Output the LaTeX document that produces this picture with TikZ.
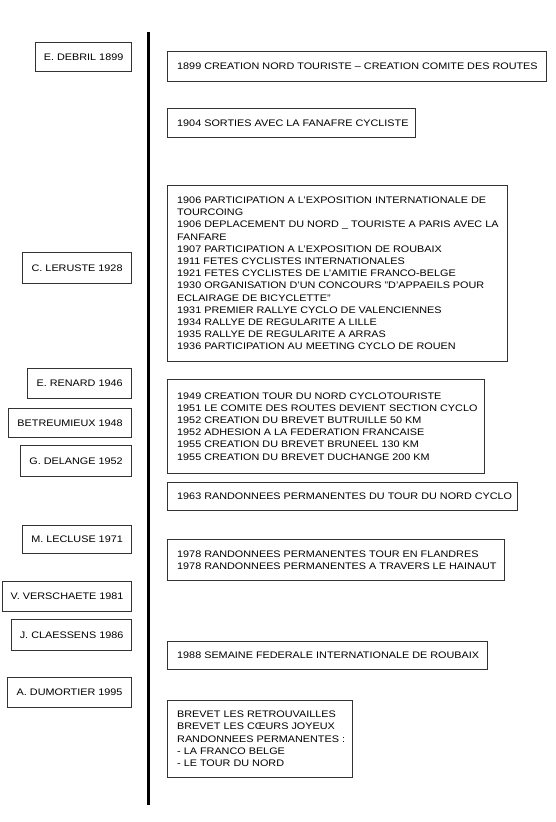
\documentclass[tikz,border=0pt]{standalone}
\usepackage{fontspec}
\setmainfont{Liberation Sans}[FakeStretch=1.14]
\begin{document}
\begin{tikzpicture}[x=1pt,y=-1pt,
  every node/.style={font=\fontsize{9.5}{12.2}\selectfont, text=black},
  lbox/.style={draw=black!80, line width=0.8pt, anchor=north east, align=center, inner sep=1pt},
  rbox/.style={draw=black!80, line width=0.8pt, anchor=north west, inner sep=0pt},
  rtext/.style={anchor=west, align=left, inner sep=0pt, xshift=10pt}]
\useasboundingbox[fill=white] (0,0) rectangle (556,822);
% timeline
\coordinate (top) at (148.5,32);
\coordinate (bot) at (148.5,805);
\draw[line width=3.6pt, black] (top) -- (bot);
% left boxes
\node[lbox, minimum width=96pt, minimum height=29pt] (debril) at (132,42) {E. DEBRIL 1899};
\node[lbox, minimum width=109pt, minimum height=31pt] (leruste) at (132,252) {C. LERUSTE 1928};
\node[lbox, minimum width=104pt, minimum height=30pt] (renard) at (132,368) {E. RENARD 1946};
\node[lbox, minimum width=123pt, minimum height=29pt] (betreu) at (132,408) {BETREUMIEUX 1948};
\node[lbox, minimum width=111pt, minimum height=31pt] (delange) at (132,445) {G. DELANGE 1952};
\node[lbox, minimum width=109pt, minimum height=28pt] (lecluse) at (132,525) {M. LECLUSE 1971};
\node[lbox, minimum width=129pt, minimum height=30pt] (versch) at (132,581) {V. VERSCHAETE 1981};
\node[lbox, minimum width=120pt, minimum height=31pt] (claess) at (132,619) {J. CLAESSENS 1986};
\node[lbox, minimum width=124pt, minimum height=30pt] (dumort) at (132,677) {A. DUMORTIER 1995};
% right boxes
\node[rbox, minimum width=379pt, minimum height=30pt] (r1899) at (167,51) {};
\node[rtext] (t1899) at (r1899.west) {1899 CREATION NORD TOURISTE – CREATION COMITE DES ROUTES};
\node[rbox, minimum width=248pt, minimum height=29pt] (r1904) at (167,108) {};
\node[rtext] (t1904) at (r1904.west) {1904 SORTIES AVEC LA FANAFRE CYCLISTE};
\node[rbox, minimum width=340pt, minimum height=176pt] (r1906) at (167,185) {};
\node[rtext] (t1906) at (r1906.west) {1906 PARTICIPATION A L'EXPOSITION INTERNATIONALE DE\\
TOURCOING\\
1906 DEPLACEMENT DU NORD \_ TOURISTE A PARIS AVEC LA\\
FANFARE\\
1907 PARTICIPATION A L'EXPOSITION DE ROUBAIX\\
1911 FETES CYCLISTES INTERNATIONALES\\
1921 FETES CYCLISTES DE L'AMITIE FRANCO-BELGE\\
1930 ORGANISATION D'UN CONCOURS "D'APPAEILS POUR\\
ECLAIRAGE DE BICYCLETTE"\\
1931 PREMIER RALLYE CYCLO DE VALENCIENNES\\
1934 RALLYE DE REGULARITE A LILLE\\
1935 RALLYE DE REGULARITE A ARRAS\\
1936 PARTICIPATION AU MEETING CYCLO DE ROUEN};
\node[rbox, minimum width=317pt, minimum height=94pt] (r1949) at (167,379) {};
\node[rtext] (t1949) at (r1949.west) {1949 CREATION TOUR DU NORD CYCLOTOURISTE\\
1951 LE COMITE DES ROUTES DEVIENT SECTION CYCLO\\
1952 CREATION DU BREVET BUTRUILLE 50 KM\\
1952 ADHESION A LA FEDERATION FRANCAISE\\
1955 CREATION DU BREVET BRUNEEL 130 KM\\
1955 CREATION DU BREVET DUCHANGE 200 KM};
\node[rbox, minimum width=350pt, minimum height=28pt] (r1963) at (167,482) {};
\node[rtext] (t1963) at (r1963.west) {1963 RANDONNEES PERMANENTES DU TOUR DU NORD CYCLO};
\node[rbox, minimum width=337pt, minimum height=41pt] (r1978) at (167,539) {};
\node[rtext] (t1978) at (r1978.west) {1978 RANDONNEES PERMANENTES TOUR EN FLANDRES\\
1978 RANDONNEES PERMANENTES A TRAVERS LE HAINAUT};
\node[rbox, minimum width=320pt, minimum height=28pt] (r1988) at (167,641) {};
\node[rtext] (t1988) at (r1988.west) {1988 SEMAINE FEDERALE INTERNATIONALE DE ROUBAIX};
\node[rbox, minimum width=185pt, minimum height=77pt] (rbrev) at (167,700) {};
\node[rtext] (tbrev) at (rbrev.west) {BREVET LES RETROUVAILLES\\
BREVET LES CŒURS JOYEUX\\
RANDONNEES PERMANENTES :\\
- LA FRANCO BELGE\\
- LE TOUR DU NORD};
\end{tikzpicture}
\end{document}
